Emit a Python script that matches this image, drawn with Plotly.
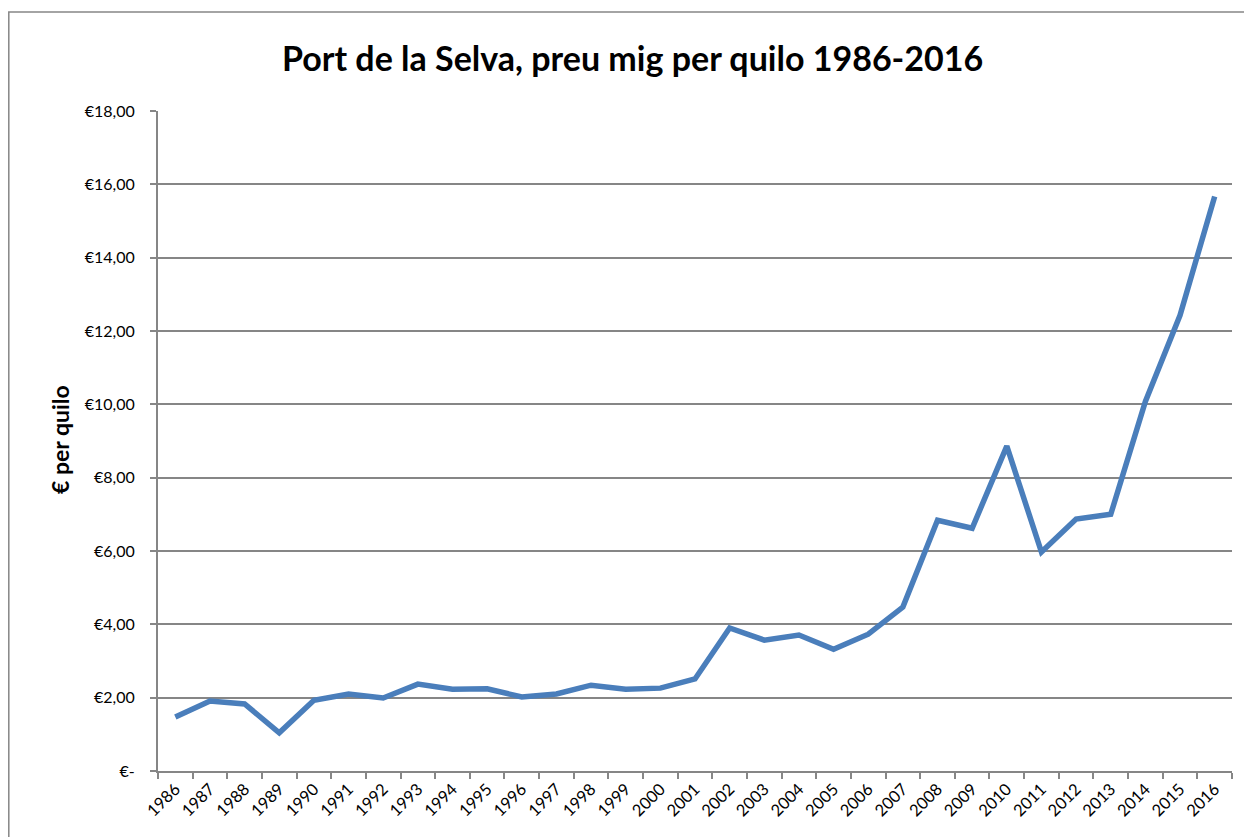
import plotly.graph_objects as go

years = [str(y) for y in range(1986, 2017)]
prices = [1.47, 1.91, 1.83, 1.04, 1.93, 2.10, 1.99, 2.37, 2.23, 2.24, 2.02, 2.10,
          2.34, 2.23, 2.26, 2.51, 3.90, 3.57, 3.71, 3.32, 3.73, 4.47, 6.84, 6.62,
          8.86, 5.97, 6.87, 7.00, 10.08, 12.43, 15.67]
y_tickvals = [0, 2, 4, 6, 8, 10, 12, 14, 16, 18]
y_ticktext = ["€-", "€2,00", "€4,00", "€6,00", "€8,00", "€10,00", "€12,00",
              "€14,00", "€16,00", "€18,00"]

FONT = "Lato, 'Open Sans', sans-serif"
OFF = 8  # page body offset
W, H = 1252 - OFF, 837 - OFF
L, T = 158 - OFF, 111 - OFF
R = W - (1232 - OFF)
B = H - (771 - OFF)
pw = W - L - R
ph = H - T - B


def px(xs):
    return (xs - OFF - L) / pw


def py(ys):
    return (H - B - (ys - OFF)) / ph


fig = go.Figure()
fig.add_trace(go.Scatter(x=years, y=prices, mode="lines",
                         line=dict(color="#4A7EBB", width=5.5),
                         showlegend=False, hoverinfo="x+y"))

fig.update_layout(
    width=W, height=H,
    margin=dict(l=L, r=R, t=T, b=B),
    paper_bgcolor="white", plot_bgcolor="white",
    font=dict(family=FONT, color="black", size=14),
    xaxis=dict(type="category", range=[-0.5, 30.5], tickson="boundaries",
               ticks="outside", ticklen=6, tickcolor="#868686", tickwidth=1.8,
               showline=True, linecolor="#868686", linewidth=2,
               showgrid=False, tickangle=-45, tickfont=dict(size=16.5),
               fixedrange=True),
    yaxis=dict(range=[0, 18], tickvals=y_tickvals, ticktext=y_ticktext,
               ticks="outside", ticklen=6, tickcolor="#868686", tickwidth=1.8,
               showline=True, linecolor="#868686", linewidth=2,
               showgrid=True, gridcolor="#868686", gridwidth=1.8,
               zeroline=False, tickfont=dict(size=16), ticklabelstandoff=12,
               fixedrange=True),
    annotations=[
        dict(text="<b>Port de la Selva, preu mig per quilo 1986-2016</b>",
             xref="paper", yref="paper",
             x=px(632), y=py(57),
             xanchor="center", yanchor="middle", showarrow=False,
             font=dict(size=34, family=FONT)),
        dict(text="<b>€ per quilo</b>", xref="paper", yref="paper",
             x=px(60), y=py(440), textangle=-90,
             xanchor="center", yanchor="middle", showarrow=False,
             font=dict(size=23, family=FONT)),
    ],
    shapes=[dict(type="rect", xref="paper", yref="paper",
                 x0=px(8.8), x1=px(1300),
                 y0=py(900), y1=py(12),
                 line=dict(color="#868686", width=1.5), layer="below")],
)

fig.write_html("out.html")
